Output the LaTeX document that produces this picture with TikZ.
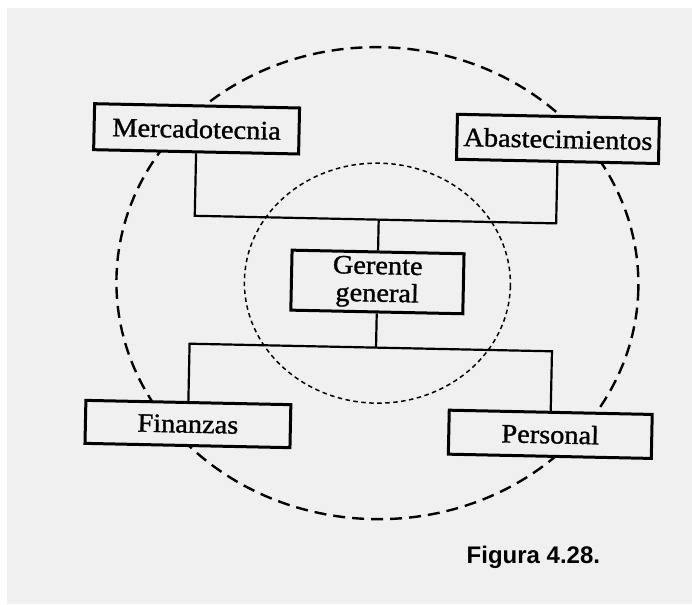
\documentclass[tikz,border=0pt]{standalone}
\usepackage{fontspec}
\setmainfont{Liberation Serif}[FakeStretch=1.07,FakeBold=1.2]
\newfontfamily\figfont{Liberation Sans}
\begin{document}
\begin{tikzpicture}[x=1pt,y=-1pt,
  orgbox/.style={draw, line width=3pt, fill=paper, inner sep=0pt,
    align=center, transform shape,
    font=\fontsize{26.5}{27.5}\selectfont},
  link/.style={line width=2.2pt, line join=miter},
  outerring/.style={line width=2.4pt, dash pattern=on 12pt off 7pt},
  innerring/.style={line width=1.5pt, dash pattern=on 4.5pt off 3.5pt}]
\definecolor{paper}{gray}{0.94}
% sheet
\fill[white] (0,0) rectangle (692,604);
\fill[paper] (7,8) rectangle (692,604);
\useasboundingbox (0,0) rectangle (692,604);

\begin{scope}[rotate around={-1.2:(346,302)}]
  % rings around the general manager
  \draw[outerring] (377,282.5) ellipse [x radius=261, y radius=236];
  \draw[innerring] (377,282.5) ellipse [x radius=133, y radius=120];

  % bends of the two branches
  \coordinate (tl) at (193,219);
  \coordinate (tc) at (377,219);
  \coordinate (tr) at (554.5,219);
  \coordinate (bl) at (190.5,347);
  \coordinate (bc) at (377,347);
  \coordinate (br) at (553,347);

  % boxes
  \node[orgbox, minimum width=205pt, minimum height=46pt] (merc) at (193,132) {Mercadotecnia};
  \node[orgbox, minimum width=202pt, minimum height=45pt] (abast) at (554.5,134.5) {Abastecimientos};
  \node[orgbox, minimum width=172pt, minimum height=60pt] (gg) at (377,281.3) {Gerente\\general};
  \node[orgbox, minimum width=205pt, minimum height=43pt] (fin) at (190.5,427.3) {Finanzas};
  \node[orgbox, minimum width=203pt, minimum height=44pt] (pers) at (553,430) {Personal};

  % connectors
  \draw[link] (merc.south) -- (tl) -- (tr) -- (abast.south);
  \draw[link] (gg.north) -- (tc);
  \draw[link] (gg.south) -- (bc);
  \draw[link] (fin.north) -- (bl) -- (br) -- (pers.north);
\end{scope}

\node[anchor=base west, inner sep=0pt, font=\figfont\bfseries\fontsize{24}{26}\selectfont] (fig) at (466.5,563.3) {Figura 4.28.};
\end{tikzpicture}
\end{document}
